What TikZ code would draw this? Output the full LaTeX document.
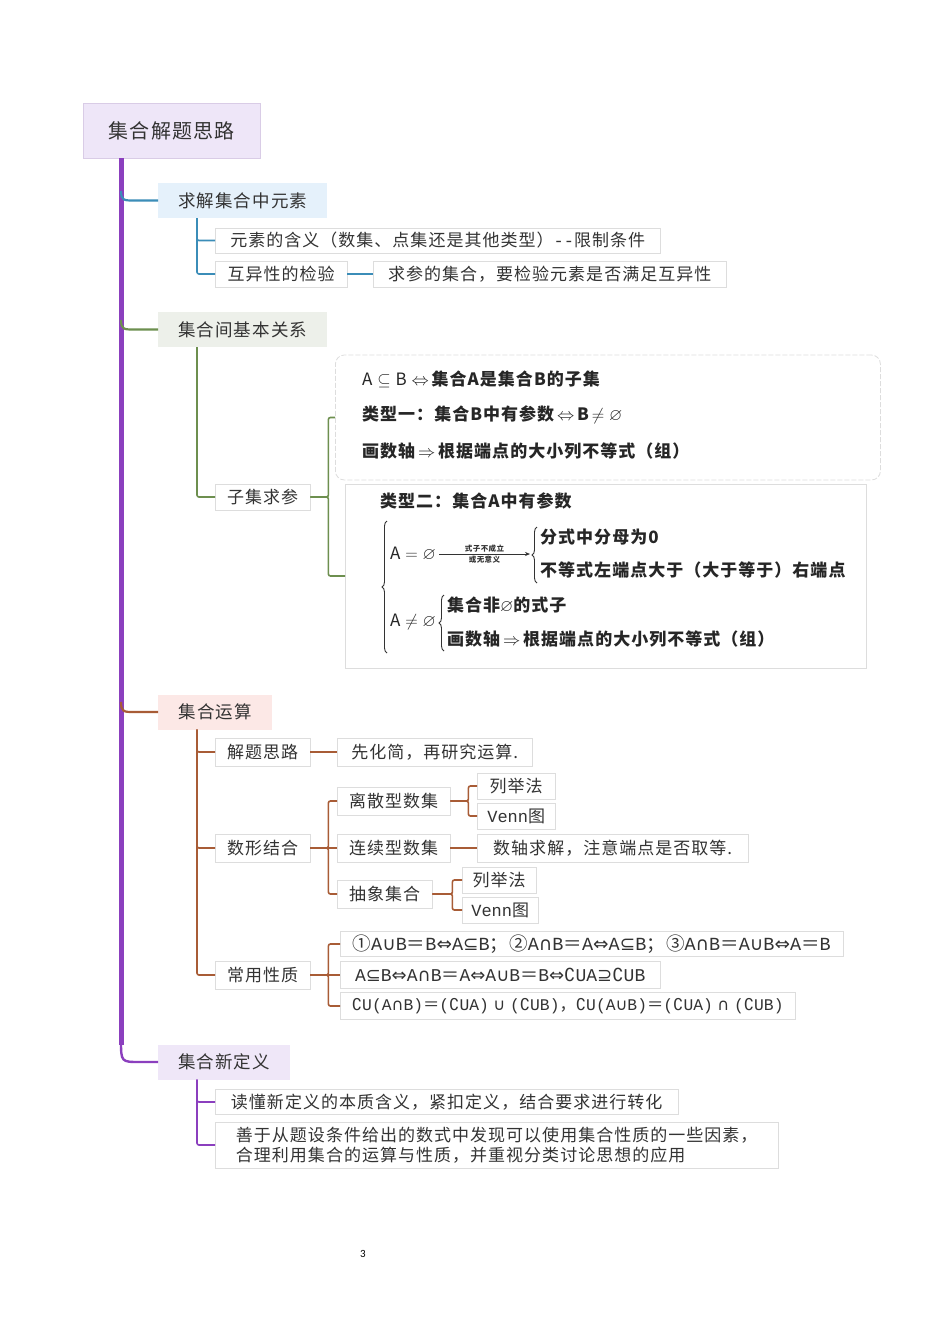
\documentclass[tikz,border=0pt]{standalone}
\usepackage{fontspec}
\usepackage{amsmath,amssymb}
\usetikzlibrary{decorations.pathreplacing,arrows.meta}
\setmainfont{Noto Sans CJK SC}[LetterSpace=6]
\newfontfamily\symf{DejaVu Sans}
\newfontfamily\monof{Liberation Mono}
\newfontfamily\pgnumf{Carlito}
\newcommand\sy[1]{{\symf #1}}
\newcommand\ml[1]{{\monof #1}}
\definecolor{trunkc}{HTML}{8B3FBE}
\definecolor{bluec}{HTML}{3B8DB8}
\definecolor{greenc}{HTML}{6D8F4F}
\definecolor{brownc}{HTML}{A85C36}
\definecolor{rootfill}{HTML}{EEE6F8}
\definecolor{rootline}{HTML}{D9CCE6}
\definecolor{bafill}{HTML}{E5F1FB}
\definecolor{bbfill}{HTML}{EDF0EA}
\definecolor{bcfill}{HTML}{FCE8E6}
\definecolor{bdfill}{HTML}{EFE7F8}
\definecolor{txt}{HTML}{333333}
\definecolor{boxline}{HTML}{DDDDDD}
\begin{document}
\begin{tikzpicture}[x=1pt,y=-1pt,
  every node/.style={text=txt},
  rootbox/.style={draw=rootline, fill=rootfill, minimum height=55, anchor=west, inner sep=0, font=\fontsize{20}{24}\selectfont},
  branchbox/.style={minimum height=35, anchor=west, inner sep=0, font=\fontsize{17.5}{20}\selectfont},
  leaf/.style={draw=boxline, fill=white, minimum height=26, anchor=west, inner sep=0, font=\fontsize{17}{20}\selectfont},
  imgtxt/.style={anchor=west, inner sep=0, text=black!85, font=\fontsize{17}{20}\selectfont\bfseries},
  conn/.style={line width=1.6pt, rounded corners=2pt},
  bracestyle/.style={decorate, decoration={brace, amplitude=5pt}, line width=0.9pt, black!80}
]
\fill[white] (0,0) rectangle (950,1344);
\useasboundingbox (0,0) rectangle (950,1344);

% root and trunk
\node[rootbox, minimum width=177] (root) at (83,130.5) {集合解题思路};
\coordinate (tkend) at (121,1045);
\draw[trunkc, line width=5pt] ([xshift=38pt]root.south west) -- (tkend);

% branches
\node[branchbox, fill=bafill, minimum width=169] (ba) at (158,200.5) {求解集合中元素};
\node[branchbox, fill=bbfill, minimum width=169] (bb) at (158,329.5) {集合间基本关系};
\node[branchbox, fill=bcfill, minimum width=114] (bc) at (158,712) {集合运算};
\node[branchbox, fill=bdfill, minimum width=132] (bd) at (158,1062) {集合新定义};

\coordinate (ta) at (121,191);
\coordinate (tb) at (121,320);
\coordinate (tc) at (121,702);
\coordinate (td) at (121,1040);
\draw[bluec, line width=2.2pt] (ta) .. controls (121,200.5) and (124,200.5) .. (134,200.5) -- (ba.west);
\draw[greenc, line width=2.2pt] (tb) .. controls (121,329.5) and (124,329.5) .. (134,329.5) -- (bb.west);
\draw[brownc, line width=2.2pt] (tc) .. controls (121,712) and (124,712) .. (134,712) -- (bc.west);
\draw[trunkc, line width=2.4pt] (td) .. controls (121,1062) and (121,1062) .. (140,1062) -- (bd.west);

% branch A children
\node[leaf, minimum width=445, minimum height=25] (a1) at (215,240.5) {元素的含义（数集、点集还是其他类型）\ml{--}限制条件};
\node[leaf, minimum width=132] (a2) at (215,274) {互异性的检验};
\node[leaf, minimum width=353] (a3) at (373,274) {求参的集合，要检验元素是否满足互异性};
\draw[conn, bluec] ([xshift=39pt]ba.south west) |- (a1.west);
\draw[conn, bluec] ([xshift=39pt]ba.south west) |- (a2.west);
\draw[conn, bluec] (a2.east) -- (a3.west);

% branch B children
\node[leaf, minimum width=95] (b1) at (215,497) {子集求参};
\node[draw=boxline, line width=0.8pt, dash pattern=on 5pt off 2pt, rounded corners=9pt, fill=white,
      minimum width=545, minimum height=125, anchor=west, inner sep=0] (img1) at (335,417.5) {};
\node[draw=boxline, line width=0.8pt, fill=white,
      minimum width=521, minimum height=184, anchor=west, inner sep=0] (img2) at (345,576) {};
\draw[conn, greenc] ([xshift=39pt]bb.south west) |- (b1.west);
\draw[conn, greenc] (b1.east) -- ++(18,0) |- (img1.west);
\draw[conn, greenc] (b1.east) -- ++(18,0) |- (img2.west);

% image 1 contents
\node[imgtxt] (i11) at (362,379) {$\mathrm{A}\subseteq\mathrm{B}\Leftrightarrow$\,集合A是集合B的子集};
\node[imgtxt] (i12) at (362,415) {类型一：集合B中有参数\,$\Leftrightarrow$\,B$\,\neq\varnothing$};
\node[imgtxt] (i13) at (362,451) {画数轴\,$\Rightarrow$\,根据端点的大小列不等式（组）};

% image 2 contents
\node[imgtxt] (i20) at (380,501) {类型二：集合A中有参数};
\draw[bracestyle] (387,653) -- (387,521);
\node[imgtxt] (i21) at (390,554) {$\mathrm{A}=\varnothing$};
\coordinate (arrs) at (439,554);
\coordinate (arre) at (530,554);
\draw[black!80, line width=0.7pt, -{Stealth[length=5pt,width=4pt]}] (arrs) -- (arre)
   node[midway, above=1pt, inner sep=0, font=\fontsize{7.5}{8}\selectfont\bfseries, text=black!80] {式子不成立}
   node[midway, below=2pt, inner sep=0, font=\fontsize{7.5}{8}\selectfont\bfseries, text=black!80] {或无意义};
\draw[bracestyle] (537,583) -- (537,527);
\node[imgtxt] (i22) at (540,537) {分式中分母为0};
\node[imgtxt] (i23) at (540,570) {不等式左端点大于（大于等于）右端点};
\node[imgtxt] (i24) at (390,622) {$\mathrm{A}\neq\varnothing$};
\draw[bracestyle] (444,651) -- (444,595);
\node[imgtxt] (i25) at (447,605) {集合非$\varnothing$的式子};
\node[imgtxt] (i26) at (447,639) {画数轴\,$\Rightarrow$\,根据端点的大小列不等式（组）};

% branch C children
\node[leaf, minimum width=95, minimum height=28] (c1) at (215,752) {解题思路};
\node[leaf, minimum width=195, minimum height=28] (c2) at (337,752) {先化简，再研究运算.};
\node[leaf, minimum width=95, minimum height=28] (c3) at (215,848) {数形结合};
\node[leaf, minimum width=113, minimum height=28] (d1) at (337,801) {离散型数集};
\node[leaf, minimum width=78] (e1) at (477,786) {列举法};
\node[leaf, minimum width=78] (e2) at (477,816) {\ml{Venn}图};
\node[leaf, minimum width=113, minimum height=28] (d2) at (337,848) {连续型数集};
\node[leaf, minimum width=271, minimum height=28] (e3) at (477,848) {数轴求解，注意端点是否取等.};
\node[leaf, minimum width=95, minimum height=28] (d3) at (337,894) {抽象集合};
\node[leaf, minimum width=74] (e4) at (462,880) {列举法};
\node[leaf, minimum width=76] (e5) at (462,910) {\ml{Venn}图};
\node[leaf, minimum width=95, minimum height=28] (c4) at (215,975) {常用性质};
\node[leaf, minimum width=503, minimum height=25, font=\fontsize{18.5}{20}\selectfont] (f1) at (340,944)
  {①\ml{A}\sy{∪}\ml{B}＝\ml{B}\sy{⇔}\ml{A}\sy{⊆}\ml{B}；②\ml{A}\sy{∩}\ml{B}＝\ml{A}\sy{⇔}\ml{A}\sy{⊆}\ml{B}；③\ml{A}\sy{∩}\ml{B}＝\ml{A}\sy{∪}\ml{B}\sy{⇔}\ml{A}＝\ml{B}};
\node[leaf, minimum width=320, minimum height=27, font=\fontsize{18}{20}\selectfont] (f2) at (340,975)
  {\ml{A}\sy{⊆}\ml{B}\sy{⇔}\ml{A}\sy{∩}\ml{B}＝\ml{A}\sy{⇔}\ml{A}\sy{∪}\ml{B}＝\ml{B}\sy{⇔}\sy{∁}\ml{UA}\sy{⊇}\sy{∁}\ml{UB}};
\node[leaf, minimum width=455, minimum height=27, font=\fontsize{16.3}{20}\selectfont] (f3) at (340,1006)
  {\sy{∁}\ml{U(A}\sy{∩}\ml{B)}＝\ml{(}\sy{∁}\ml{UA)} \sy{∪} \ml{(}\sy{∁}\ml{UB)}，\sy{∁}\ml{U(A}\sy{∪}\ml{B)}＝\ml{(}\sy{∁}\ml{UA)} \sy{∩} \ml{(}\sy{∁}\ml{UB)}};
\draw[conn, brownc] ([xshift=39pt]bc.south west) |- (c1.west);
\draw[conn, brownc] ([xshift=39pt]bc.south west) |- (c3.west);
\draw[conn, brownc] ([xshift=39pt]bc.south west) |- (c4.west);
\draw[conn, brownc] (c1.east) -- (c2.west);
\draw[conn, brownc] (c3.east) -- ++(18,0) |- (d1.west);
\draw[conn, brownc] (c3.east) -- (d2.west);
\draw[conn, brownc] (c3.east) -- ++(18,0) |- (d3.west);
\draw[conn, brownc] (d1.east) -- ++(18,0) |- (e1.west);
\draw[conn, brownc] (d1.east) -- ++(18,0) |- (e2.west);
\draw[conn, brownc] (d2.east) -- (e3.west);
\draw[conn, brownc] (d3.east) -- ++(20,0) |- (e4.west);
\draw[conn, brownc] (d3.east) -- ++(20,0) |- (e5.west);
\draw[conn, brownc] (c4.east) -- ++(18,0) |- (f1.west);
\draw[conn, brownc] (c4.east) -- (f2.west);
\draw[conn, brownc] (c4.east) -- ++(18,0) |- (f3.west);

% branch D children
\node[leaf, minimum width=463, minimum height=25] (g1) at (215,1102) {读懂新定义的本质含义，紧扣定义，结合要求进行转化};
\node[leaf, minimum width=563, minimum height=46, align=left] (g2) at (215,1145)
  {善于从题设条件给出的数式中发现可以使用集合性质的一些因素，\\合理利用集合的运算与性质，并重视分类讨论思想的应用};
\draw[conn, trunkc] ([xshift=39pt]bd.south west) |- (g1.west);
\draw[conn, trunkc] ([xshift=39pt]bd.south west) |- (g2.west);

% page number
\node[font=\pgnumf\fontsize{11}{12}\selectfont, text=black] (pg) at (363,1254) {3};
\end{tikzpicture}
\end{document}
